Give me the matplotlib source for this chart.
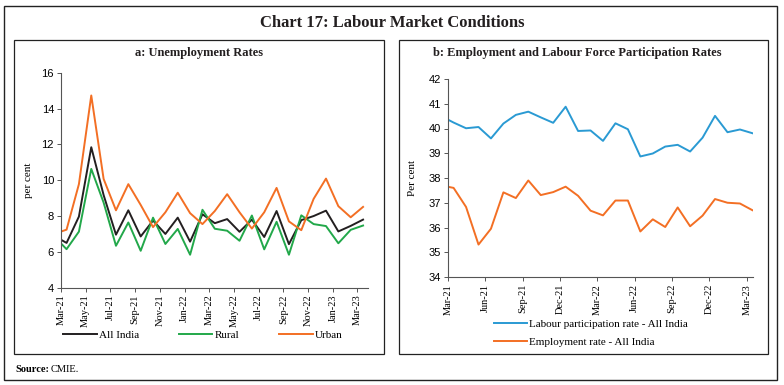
import numpy as np
import matplotlib
matplotlib.use('Agg')
import matplotlib.pyplot as plt
from matplotlib.patches import Rectangle

# monthly data (Feb-21 is only partly visible, clipped at the axis start)
months = ['Feb-21', 'Mar-21', 'Apr-21', 'May-21', 'Jun-21', 'Jul-21', 'Aug-21', 'Sep-21',
          'Oct-21', 'Nov-21', 'Dec-21', 'Jan-22', 'Feb-22', 'Mar-22', 'Apr-22', 'May-22',
          'Jun-22', 'Jul-22', 'Aug-22', 'Sep-22', 'Oct-22', 'Nov-22', 'Dec-22', 'Jan-23',
          'Feb-23', 'Mar-23']

# panel a: unemployment rates (per cent)
all_india = [6.89, 6.50, 7.97, 11.84, 9.17, 6.96, 8.32, 6.86, 7.75, 7.00, 7.91, 6.57, 8.10,
             7.60, 7.83, 7.12, 7.80, 6.83, 8.28, 6.43, 7.77, 8.00, 8.30, 7.14, 7.45, 7.80]
rural = [6.86, 6.15, 7.13, 10.63, 8.75, 6.34, 7.64, 6.06, 7.91, 6.44, 7.28, 5.84, 8.35,
         7.29, 7.18, 6.62, 8.03, 6.14, 7.68, 5.84, 8.04, 7.55, 7.44, 6.48, 7.23, 7.47]
urban = [7.00, 7.24, 9.78, 14.73, 10.07, 8.32, 9.78, 8.62, 7.38, 8.21, 9.30, 8.16, 7.55,
         8.28, 9.22, 8.21, 7.30, 8.21, 9.57, 7.70, 7.21, 8.96, 10.09, 8.55, 7.93, 8.51]

# panel b: labour participation and employment rates (per cent)
lfpr = [40.50, 40.24, 40.01, 40.06, 39.60, 40.20, 40.55, 40.68, 40.45, 40.23, 40.88, 39.90,
        39.92, 39.50, 40.21, 39.97, 38.87, 38.99, 39.27, 39.34, 39.07, 39.63, 40.51, 39.85,
        39.96, 39.81]
emp_rate = [37.70, 37.60, 36.83, 35.31, 35.95, 37.42, 37.19, 37.90, 37.31, 37.43, 37.65,
            37.28, 36.68, 36.49, 37.09, 37.09, 35.84, 36.33, 36.02, 36.81, 36.05, 36.48,
            37.15, 37.00, 36.97, 36.70]

serif = 'Liberation Serif'
sans = 'Liberation Sans'
c_black = '#231f20'
c_green = '#22a84a'
c_orange = '#f36f24'
c_blue = '#2a9ad3'
spine_c = '#555555'

# x positions: tick at start of month, point at mid-month; Mar-21 tick = 0
x = np.arange(len(months)) - 1 + 0.45
tick_pos = np.arange(len(months) - 1)
tick_lab = months[1:]

fig = plt.figure(figsize=(7.84, 3.85), dpi=100)

# frames
fig.patches.append(Rectangle((4/784, 1 - 380/385), 773/784, 374/385, transform=fig.transFigure,
                             fill=False, ec='#222222', lw=1.0))
fig.patches.append(Rectangle((14/784, 1 - 354/385), 370/784, 314/385, transform=fig.transFigure,
                             fill=False, ec='#222222', lw=0.9))
fig.patches.append(Rectangle((399/784, 1 - 354/385), 369/784, 314/385, transform=fig.transFigure,
                             fill=False, ec='#222222', lw=0.9))

fig.text(0.5, 1 - 23/385, 'Chart 17: Labour Market Conditions', ha='center', va='center',
         fontsize=12, fontweight='bold', family=serif, color='#231f20')
fig.text(199/784, 1 - 53/385, 'a: Unemployment Rates', ha='center', va='center',
         fontsize=9, fontweight='bold', family=serif, color='#231f20')
fig.text(577/784, 1 - 53/385, 'b: Employment and Labour Force Participation Rates', ha='center',
         va='center', fontsize=9, fontweight='bold', family=serif, color='#231f20')
fig.text(15/784, 1 - 369/385, 'Source:', ha='left', va='center', fontsize=7.5,
         fontweight='bold', family=serif)
fig.text(51/784, 1 - 369/385, 'CMIE.', ha='left', va='center', fontsize=7.5, family=serif)


def style_axes(ax):
    for s in ['top', 'right']:
        ax.spines[s].set_visible(False)
    for s in ['left', 'bottom']:
        ax.spines[s].set_color(spine_c)
        ax.spines[s].set_linewidth(0.8)
    ax.tick_params(axis='both', direction='out', length=3, width=0.7, color=spine_c)
    ax.tick_params(axis='y', labelsize=8, pad=2)
    ax.tick_params(axis='x', labelsize=7.5, pad=2)
    for lab in ax.get_yticklabels():
        lab.set_family(sans)
    for lab in ax.get_xticklabels():
        lab.set_family(serif)


# ---- panel a
ax1 = fig.add_axes([61/784, 1 - 287.7/385, 307/784, 215/385])
ax1.plot(x, all_india, color=c_black, lw=1.4, label='All India')
ax1.plot(x, rural, color=c_green, lw=1.4, label='Rural')
ax1.plot(x, urban, color=c_orange, lw=1.4, label='Urban')
ax1.set_xlim(0, 24.85)
ax1.set_ylim(4, 16)
ax1.set_yticks([4, 6, 8, 10, 12, 14, 16])
ax1.set_xticks(tick_pos[::2])
ax1.set_xticklabels(tick_lab[::2], rotation=90)
ax1.set_ylabel('per cent', family=serif, fontsize=8, labelpad=6)
style_axes(ax1)
ax1.legend(ncol=3, loc='center', bbox_to_anchor=(203/784, 1 - 335/385),
           bbox_transform=fig.transFigure, frameon=False, handlelength=3.0,
           handletextpad=0.2, columnspacing=3.6, prop={'family': serif, 'size': 8})

# ---- panel b
ax2 = fig.add_axes([448/784, 1 - 277/385, 305/784, 198/385])
ax2.plot(x, lfpr, color=c_blue, lw=1.4, label='Labour participation rate - All India')
ax2.plot(x, emp_rate, color=c_orange, lw=1.4, label='Employment rate - All India')
ax2.set_xlim(0, 24.5)
ax2.set_ylim(34, 42)
ax2.set_yticks(range(34, 43))
ax2.set_xticks(tick_pos[::3])
ax2.set_xticklabels(tick_lab[::3], rotation=90)
ax2.set_ylabel('Per cent', family=serif, fontsize=8, labelpad=8)
style_axes(ax2)
ax2.legend(ncol=1, loc='center', bbox_to_anchor=(591/784, 1 - 333/385),
           bbox_transform=fig.transFigure, frameon=False, handlelength=3.0,
           handletextpad=0.2, labelspacing=0.75, prop={'family': serif, 'size': 8})

fig.savefig('out.png', dpi=100)
